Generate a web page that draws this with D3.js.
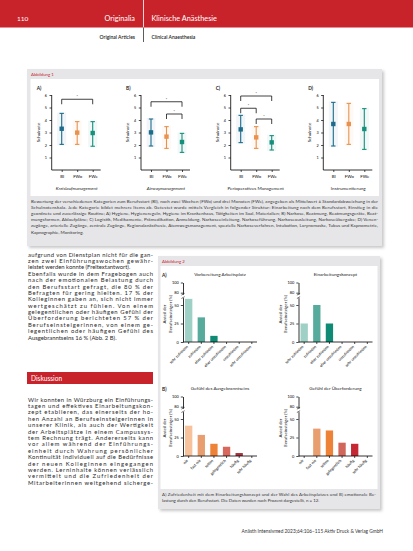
<!DOCTYPE html>
<html><head><meta charset="utf-8">
<script src="https://cdn.jsdelivr.net/npm/d3@7"></script>
<style>body{margin:0;background:#fff}svg{display:block}text{font-family:Lato,"Open Sans",sans-serif}</style>
</head><body>
<script>
// ---------- DATA ----------
const groups1 = ["BI", "FWo", "FWe"];
const panelLabels1 = ["A)", "B)", "C)", "D)"];
const panelTitles1 = ["Kreislaufmanagement", "Airwaymanagement", "Perioperatives Management", "Instrumentierung"];
const meansA = [3.3, 2.99, 2.96], upperA = [4.53, 3.87, 3.87], lowerA = [2.05, 2.05, 1.9];
const meansB = [3.01, 2.67, 2.24], upperB = [4.08, 3.47, 2.93], lowerB = [1.92, 1.73, 1.41];
const meansC = [3.25, 2.61, 2.21], upperC = [4.37, 3.47, 2.75], lowerC = [2.19, 1.73, 1.6];
const meansD = [3.68, 3.68, 3.28], upperD = [5.41, 5.33, 4.91], lowerD = [1.92, 2.05, 1.65];
const sigA = [["BI", "FWe", 5.66]];
const sigB = [["BI", "FWe", 5.46], ["FWo", "FWe", 4.48]];
const sigC = [["BI", "FWe", 5.92], ["BI", "FWo", 4.94], ["FWo", "FWe", 4.08]];
const sigD = [];
const ticks1 = [1, 2, 3, 4, 5, 6];

const cats2a = ["sehr zufrieden", "zufrieden", "eher zufrieden", "eher unzufrieden", "unzufrieden", "sehr unzufrieden"];
const cats2b = ["nie", "fast nie", "selten", "gelegentlich", "häufig", "sehr häufig"];
const titles2 = ["Vorbereitung Arbeitsplatz", "Einarbeitungskonzept", "Gefühl des Ausgebranntseins", "Gefühl der Überforderung"];
const valsVorbereitung = [58.3, 33.3, 8.3, 0, 0, 0];
const valsEinarbeitung = [25, 50, 25, 0, 0, 0];
const valsBurnout = [41, 28.5, 16.5, 12.5, 4, 0];
const valsUeberforderung = [0, 37, 34.5, 18, 16.5, 0];
const ticksLow = [0, 25, 50];
const ticksHigh = [80, 100];

// ---------- STYLES ----------
const RED = "#c8232b";
const groupColors = ["#1c6c8a", "#e8924e", "#168f7d"];
const tealColors = ["#9fd0c6", "#56ab9c", "#0f8a75", "#0f8a75", "#0f8a75", "#0f8a75"];
const warmA = ["#f7c29b", "#e99e6f", "#ee8236", "#d8675c", "#a5323c", "#a5323c"];
const warmB = ["#f7c29b", "#e99e6f", "#ee8236", "#d0675a", "#c52834", "#c52834"];

const svg = d3.select("body").append("svg").attr("width", 413).attr("height", 551);
const defs = svg.append("defs");
defs.append("filter").attr("id", "sh").attr("x", "-5%").attr("y", "-5%").attr("width", "115%").attr("height", "115%")
  .append("feGaussianBlur").attr("stdDeviation", 1.4);

function txt(g, x, y, s, o = {}) {
  const t = g.append("text").attr("x", x).attr("y", y).text(s)
    .attr("font-size", o.size || 5).attr("fill", o.fill || "#222");
  if (o.anchor) t.attr("text-anchor", o.anchor);
  if (o.weight) t.attr("font-weight", o.weight);
  if (o.style) t.attr("font-style", o.style);
  if (o.width) t.attr("textLength", o.width).attr("lengthAdjust", "spacing");
  if (o.rotate !== undefined) t.attr("transform", `rotate(${o.rotate},${x},${y})`);
  return t;
}

// ---------- HEADER ----------
svg.append("rect").attr("x", 0).attr("y", 0).attr("width", 413).attr("height", 27.5).attr("fill", RED);
svg.append("line").attr("x1", 143.5).attr("x2", 143.5).attr("y1", 0).attr("y2", 27.5).attr("stroke", "#fff").attr("stroke-width", 0.8);
svg.append("line").attr("x1", 143.5).attr("x2", 143.5).attr("y1", 27.5).attr("y2", 42).attr("stroke", "#333").attr("stroke-width", 0.8);
txt(svg, 17, 20.5, "110", { size: 6.5, fill: "#fff" });
txt(svg, 135, 20.5, "Originalia", { size: 7.3, fill: "#fff", anchor: "end" });
txt(svg, 151.5, 20.5, "Klinische Anästhesie", { size: 7.3, fill: "#fff" });
txt(svg, 135, 39, "Original Articles", { size: 5, anchor: "end", weight: 600 });
txt(svg, 151.5, 39, "Clinical Anaesthesia", { size: 5, weight: 600 });

// ---------- FIGURE 1 BOX ----------
svg.append("rect").attr("x", 29).attr("y", 71).attr("width", 355).attr("height", 177).attr("fill", "#c8c8c8").attr("filter", "url(#sh)");
svg.append("rect").attr("x", 27).attr("y", 69).attr("width", 355).attr("height", 177).attr("fill", "#e6e6e8");
svg.append("rect").attr("x", 30.5).attr("y", 79).attr("width", 348.5).attr("height", 117).attr("fill", "#fff");
txt(svg, 31, 76.3, "Abbildung 1", { size: 4.3, fill: RED });

const panels1 = [
  { m: meansA, u: upperA, l: lowerA, sig: sigA, ax: 51.7 },
  { m: meansB, u: upperB, l: lowerB, sig: sigB, ax: 141 },
  { m: meansC, u: upperC, l: lowerC, sig: sigC, ax: 230.7 },
  { m: meansD, u: upperD, l: lowerD, sig: sigD, ax: 323.3 }
];
const y1 = d3.scaleLinear().domain([0, 6]).range([170, 95]);
panels1.forEach((p, i) => {
  const g = svg.append("g");
  const x = d3.scalePoint().domain(groups1).range([p.ax + 10, p.ax + 41]);
  const ya = g.append("g").attr("transform", `translate(${p.ax},0)`)
    .call(d3.axisLeft(y1).tickValues(ticks1).tickFormat(d3.format("d")).tickSize(2.2).tickPadding(2.5).tickSizeOuter(0));
  ya.select(".domain").attr("d", `M0,${y1(6)}V${y1(0)}`).attr("stroke-width", 0.8);
  ya.selectAll("line").attr("stroke-width", 0.7);
  ya.selectAll("text").attr("font-size", 3.8).attr("font-family", "Lato");
  const xa = g.append("g").attr("transform", `translate(0,${y1(0)})`)
    .call(d3.axisBottom(x).tickSize(2).tickPadding(3).tickSizeOuter(0));
  xa.select(".domain").attr("d", `M${p.ax},0H${p.ax + 49}`).attr("stroke-width", 0.8);
  xa.selectAll("line").attr("stroke-width", 0.7);
  xa.selectAll("text").attr("font-size", 4.3).attr("font-family", "Lato");
  txt(g, p.ax - 15, 89.5, panelLabels1[i], { size: 4.8, weight: 700 });
  txt(g, p.ax - 12, (y1(0) + y1(6)) / 2, "Schulnote", { size: 4.5, anchor: "middle", rotate: -90 });
  txt(g, p.ax + 25, 190, panelTitles1[i], { size: 4.6, anchor: "middle", style: i < 2 ? "italic" : "normal" });
  groups1.forEach((c, k) => {
    const cx = x(c), col = groupColors[k];
    g.append("rect").attr("x", cx - 4.5).attr("y", y1(p.u[k]) - 1).attr("width", 9)
      .attr("height", y1(p.l[k]) - y1(p.u[k]) + 2).attr("fill", col).attr("opacity", 0.06);
    g.append("line").attr("x1", cx).attr("x2", cx).attr("y1", y1(p.u[k])).attr("y2", y1(p.l[k]))
      .attr("stroke", col).attr("stroke-width", 1.1);
    [p.u[k], p.l[k]].forEach(v => g.append("line").attr("x1", cx - 2.2).attr("x2", cx + 2.2)
      .attr("y1", y1(v)).attr("y2", y1(v)).attr("stroke", col).attr("stroke-width", 1.1));
    g.append("rect").attr("x", cx - 2.2).attr("y", y1(p.m[k]) - 2.2).attr("width", 4.4).attr("height", 4.4).attr("fill", col);
  });
  p.sig.forEach(([a, b, v]) => {
    const yy = y1(v);
    g.append("path").attr("d", `M${x(a)},${yy + 5}V${yy}H${x(b)}V${yy + 5}`)
      .attr("fill", "none").attr("stroke", "#111").attr("stroke-width", 0.8);
    txt(g, (x(a) + x(b)) / 2, yy - 1.2, "*", { size: 4.5, anchor: "middle" });
  });
});

const cap1 = [
  "Bewertung der verschiedenen Kategorien zum Berufsstart (BI), nach zwei Wochen (FWo) und drei Monaten (FWe), angegeben als Mittelwert ± Standardabweichung in der",
  "Schulnotenskala. Jede Kategorie bildet mehrere Items ab. Getestet wurde mittels Vergleich in folgender Struktur: Einarbeitung nach dem Berufsstart, Einstieg in die",
  "geordnete und zuverlässige Routine; A) Hygiene, Hygieneregeln, Hygiene im Krankenhaus, Tätigkeiten im Saal, Materialien; B) Narkose, Beatmung, Beatmungsgeräte, Beat-",
  "mungsformen, Ablaufpläne; C) Logistik, Medikamente, Prämedikation, Anmeldung, Narkoseeinleitung, Narkoseführung, Narkoseausleitung, Narkoseübergabe; D) Venen-",
  "zugänge, arterielle Zugänge, zentrale Zugänge, Regionalanästhesie, Atemwegsmanagement, spezielle Narkoseverfahren, Intubation, Larynxmaske, Tubus und Kapnometrie,",
  "Kapnographie, Monitoring."
];
cap1.forEach((s, i) => txt(svg, 31, 202.5 + i * 6.2, s, { size: 4.5, width: i < 5 ? 347 : null, fill: "#333" }));

// ---------- LEFT TEXT COLUMN ----------
const para1 = [
  "aufgrund von Dienstplan nicht für die gan-",
  "zen zwei Einführungswochen gewähr-",
  "leistet werden konnte (Freitextantwort)."
];
const para2 = [
  "Ebenfalls wurde in dem Fragebogen auch",
  "nach der emotionalen Belastung durch",
  "den Berufsstart gefragt, die 80 % der",
  "Befragten für gering hielten. 17 % der",
  "Kolleginnen gaben an, sich nicht immer",
  "wertgeschätzt zu fühlen. Von einem",
  "gelegentlichen oder häufigen Gefühl der",
  "Überforderung berichteten 57 % der",
  "Berufseinsteigerinnen, von einem ge-",
  "legentlichen oder häufigen Gefühl des",
  "Ausgebranntseins 16 % (Abb. 2 B)."
];
const para3 = [
  "Wir konnten in Würzburg ein Einführungs-",
  "tagen und effektives Einarbeitungskon-",
  "zept etablieren, das einerseits der ho-",
  "hen Anzahl an Berufseinsteigerinnen in",
  "unserer Klinik, als auch der Wertigkeit",
  "der Arbeitsplätze in einem Campussys-",
  "tem Rechnung trägt. Andererseits kann",
  "vor allem während der Einführungs-",
  "einheit durch Wahrung persönlicher",
  "Kontinuität individuell auf die Bedürfnisse",
  "der neuen Kolleginnen eingegangen",
  "werden. Lerninhalte können verlässlich",
  "vermittelt und die Zufriedenheit der",
  "Mitarbeiterinnen weitgehend sicherge-"
];
const colW = 125;
const bodyOpt = (w) => ({ size: 5.9, width: w, fill: "#2a2a2a" });
para1.forEach((s, i) => txt(svg, 28, 256.6 + i * 6.35, s, bodyOpt(i < 2 ? colW : null)));
para2.forEach((s, i) => txt(svg, 28, 276 + i * 6.35, s, bodyOpt(i < 10 ? colW : null)));
svg.append("rect").attr("x", 27).attr("y", 372).attr("width", 126).attr("height", 12).attr("fill", RED);
txt(svg, 31, 381, "Diskussion", { size: 6.6, fill: "#fff" });
para3.forEach((s, i) => txt(svg, 28, 401.6 + i * 6.4, s, bodyOpt(colW)));

// ---------- FIGURE 2 BOX ----------
svg.append("rect").attr("x", 160).attr("y", 258).attr("width", 222).attr("height", 253).attr("fill", "#c8c8c8").attr("filter", "url(#sh)");
svg.append("rect").attr("x", 158).attr("y", 256).attr("width", 222).attr("height", 253).attr("fill", "#e6e6e8");
svg.append("rect").attr("x", 160.5).attr("y", 266).attr("width", 217).attr("height", 223).attr("fill", "#fff");
txt(svg, 162, 263.3, "Abbildung 2", { size: 4.3, fill: RED });

const panels2 = [
  { v: valsVorbereitung, cats: cats2a, col: tealColors, ax: 183, base: 0, lab: "A)" },
  { v: valsEinarbeitung, cats: cats2a, col: tealColors, ax: 298.5, base: 0, lab: null },
  { v: valsBurnout, cats: cats2b, col: warmA, ax: 183, base: 114, lab: "B)" },
  { v: valsUeberforderung, cats: cats2b, col: warmB, ax: 298.5, base: 114, lab: null }
];
panels2.forEach((p, i) => {
  const g = svg.append("g").attr("transform", `translate(0,${p.base})`);
  const yLow = d3.scaleLinear().domain([0, 60]).range([342, 297.6]);
  const yHigh = d3.scaleLinear().domain([77, 100]).range([294.2, 282.5]);
  const x = d3.scaleBand().domain(p.cats).range([p.ax - 0.5, p.ax + 75]).paddingInner(0.42).paddingOuter(0.2);
  g.selectAll("rect.bar").data(p.v).join("rect").attr("class", "bar")
    .attr("x", (d, k) => x(p.cats[k])).attr("width", x.bandwidth())
    .attr("y", d => yLow(d)).attr("height", d => yLow(0) - yLow(d))
    .attr("fill", (d, k) => p.col[k]);
  const al = g.append("g").attr("transform", `translate(${p.ax},0)`)
    .call(d3.axisLeft(yLow).tickValues(ticksLow).tickSize(2.2).tickPadding(2).tickSizeOuter(0));
  const ah = g.append("g").attr("transform", `translate(${p.ax},0)`)
    .call(d3.axisLeft(yHigh).tickValues(ticksHigh).tickSize(2.2).tickPadding(2).tickSizeOuter(0));
  [al, ah].forEach(a => {
    a.select(".domain").attr("stroke-width", 0.8);
    a.selectAll("line").attr("stroke-width", 0.7);
    a.selectAll("text").attr("font-size", 3.9).attr("font-family", "Lato");
  });
  [yLow(60), yHigh(77)].forEach(yy => g.append("line").attr("x1", p.ax - 1.6).attr("x2", p.ax + 1.6)
    .attr("y1", yy + 0.9).attr("y2", yy - 0.9).attr("stroke", "#111").attr("stroke-width", 0.6));
  const xa = g.append("g").attr("transform", `translate(0,${yLow(0)})`)
    .call(d3.axisBottom(x).tickSize(2).tickPadding(2).tickSizeOuter(0));
  xa.select(".domain").attr("d", `M${p.ax},0H${p.ax + 74}`).attr("stroke-width", 0.8);
  xa.selectAll("line").attr("stroke-width", 0.7);
  xa.selectAll("text").attr("font-size", 3.9).attr("font-family", "Lato")
    .attr("text-anchor", "end").attr("dy", 0).attr("y", 4.5)
    .attr("transform", "rotate(-45,0,4.5)").attr("x", -0.5);
  txt(g, p.ax + 37, 276, titles2[i], { size: 4.6, anchor: "middle" });
  if (p.lab) txt(g, 162, 277, p.lab, { size: 4.8, weight: 700 });
  const cy = 314;
  txt(g, p.ax - 17, cy, "Anteil der", { size: 4.4, anchor: "middle", rotate: -90 });
  txt(g, p.ax - 11.5, cy, "Berufseinsteiger (%)", { size: 4.4, anchor: "middle", rotate: -90 });
});

const cap2 = [
  "A) Zufriedenheit mit dem Einarbeitungskonzept und der Wahl des Arbeitsplatzes und B) emotionale Be-",
  "lastung durch den Berufsstart. Die Daten wurden nach Prozent dargestellt, n = 12."
];
cap2.forEach((s, i) => txt(svg, 162, 495.5 + i * 6.3, s, { size: 4.4, width: i === 0 ? 214 : null, fill: "#333" }));

// ---------- FOOTER ----------
txt(svg, 383, 532.5, "Anästh Intensivmed 2023;64:106–115  Aktiv Druck & Verlag GmbH", { size: 4.8, anchor: "end", fill: "#333" });
</script>
</body></html>
